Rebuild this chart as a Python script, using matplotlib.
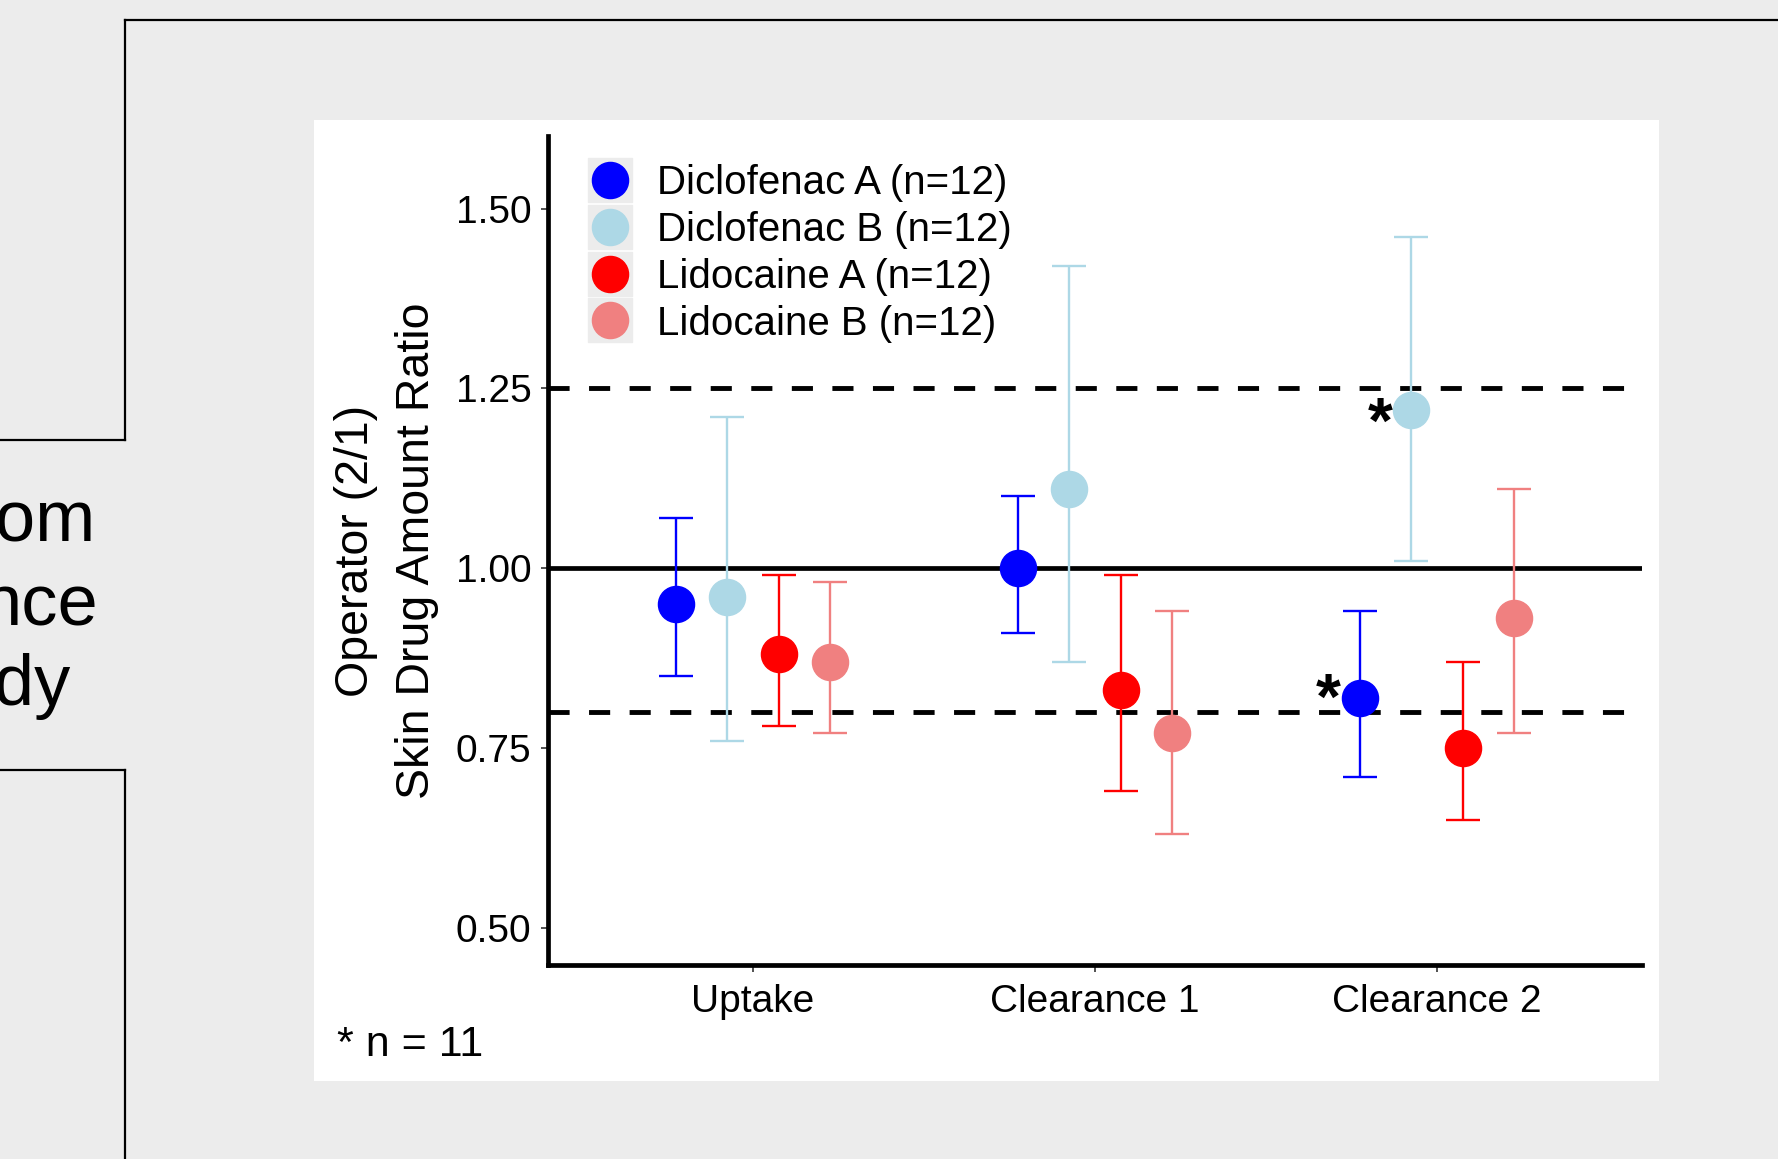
import matplotlib
matplotlib.use("Agg")
import matplotlib.pyplot as plt
from matplotlib.lines import Line2D
from matplotlib.legend_handler import HandlerTuple
import numpy as np

plt.rcParams['font.family'] = ['Liberation Sans', 'DejaVu Sans']
plt.rcParams['lines.scale_dashes'] = False

# ---------------- data ----------------
phases = ["Uptake", "Clearance 1", "Clearance 2"]
series = ["Diclofenac A (n=12)", "Diclofenac B (n=12)",
          "Lidocaine A (n=12)", "Lidocaine B (n=12)"]
colors = ["#0000FF", "#ADD8E6", "#FF0000", "#F08080"]

diclo_a_mean = [0.95, 1.00, 0.82]
diclo_a_lo = [0.85, 0.91, 0.71]
diclo_a_hi = [1.07, 1.10, 0.94]

diclo_b_mean = [0.96, 1.11, 1.22]
diclo_b_lo = [0.76, 0.87, 1.01]
diclo_b_hi = [1.21, 1.42, 1.46]

lido_a_mean = [0.88, 0.83, 0.75]
lido_a_lo = [0.78, 0.69, 0.65]
lido_a_hi = [0.99, 0.99, 0.87]

lido_b_mean = [0.87, 0.77, 0.93]
lido_b_lo = [0.77, 0.63, 0.77]
lido_b_hi = [0.98, 0.94, 1.11]

# "*" annotations (n = 11): series index, phase index, label height
star_series = [0, 1]
star_phase = [2, 2]
star_y = [0.834, 1.218]

ref_solid = 1.0
ref_dashed = [0.80, 1.25]
yticks = [0.50, 0.75, 1.00, 1.25, 1.50]

means = [diclo_a_mean, diclo_b_mean, lido_a_mean, lido_b_mean]
los = [diclo_a_lo, diclo_b_lo, lido_a_lo, lido_b_lo]
his = [diclo_a_hi, diclo_b_hi, lido_a_hi, lido_b_hi]

# ---------------- figure ----------------
W, H = 1778, 1159
fig = plt.figure(figsize=(W / 100, H / 100), dpi=100)
fig.patch.set_facecolor("#ececec")

def fx(px):
    return px / W

def fy(py):
    return 1 - py / H

# slide decorations
for (x0, y0, x1, y1) in [(125, 20, W, 20), (125, 20, 125, 440), (0, 440, 125, 440),
                         (0, 770, 125, 770), (125, 770, 125, H)]:
    fig.add_artist(Line2D([fx(x0), fx(x1)], [fy(y0), fy(y1)], color="black", lw=1.6,
                          transform=fig.transFigure))

for txt, xr, yb in [("om", 95, 542), ("nce", 98, 626), ("dy", 70, 705)]:
    fig.text(fx(xr), fy(yb), txt, ha="right", va="baseline", fontsize=52, color="black")

# white panel
fig.add_artist(plt.Rectangle((fx(314), fy(1081)), fx(1659) - fx(314), fy(120) - fy(1081),
                             transform=fig.transFigure, facecolor="white", edgecolor="none",
                             zorder=0))

ax = fig.add_axes([fx(548), fy(965), fx(1642) - fx(548), fy(136) - fy(965)])
ax.set_facecolor("white")
ax.set_zorder(1)

x = np.arange(len(phases))
offsets = [-0.225, -0.075, 0.075, 0.225]

ax.axhline(ref_solid, color="black", lw=3.4, zorder=1)
for v in ref_dashed:
    ax.axhline(v, color="black", lw=3.5, ls=(0, (15.2, 14)), zorder=1)

for i in range(4):
    m = np.array(means[i])
    lo = np.array(los[i])
    hi = np.array(his[i])
    ax.errorbar(x + offsets[i], m, yerr=[m - lo, hi - m], fmt="o", ms=26,
                color=colors[i], ecolor=colors[i], elinewidth=1.7, capsize=12.5,
                capthick=1.7, mec=colors[i], zorder=3)

for si, pj, yv in zip(star_series, star_phase, star_y):
    ax.text(x[pj] + offsets[si] - 0.092, yv - 0.0195, "*", ha="center",
            va="center", fontsize=46, fontweight="bold", color="black", zorder=4)

ax.set_xlim(-0.6, 2.6)
ax.set_ylim(0.448, 1.601)
ax.set_xticks(x)
ax.set_xticklabels(phases, fontsize=28)
ax.set_yticks(yticks)
ax.set_yticklabels([f"{t:.2f}" for t in yticks], fontsize=28)
ax.tick_params(axis="both", direction="out", length=5, width=1.2, color="#333333",
               labelcolor="black")
ax.tick_params(axis="y", pad=7)
ax.tick_params(axis="x", pad=9)
for s in ["top", "right"]:
    ax.spines[s].set_visible(False)
for s in ["left", "bottom"]:
    ax.spines[s].set_linewidth(3.4)
    ax.spines[s].set_color("black")

ax.set_ylabel("Operator (2/1)\nSkin Drug Amount Ratio", fontsize=33.5, linespacing=1.5,
              labelpad=12)

handles = []
for c in colors:
    handles.append((Line2D([], [], marker="s", ms=31.5, color="#ececec", ls=""),
                    Line2D([], [], marker="o", ms=26, color=c, ls="")))
leg = ax.legend(handles, series, handler_map={tuple: HandlerTuple(ndivide=1, pad=0)},
                loc="upper left", bbox_to_anchor=(fx(588), fy(164)),
                bbox_transform=fig.transFigure, frameon=False, fontsize=29,
                handlelength=1.1, handletextpad=0.62, labelspacing=0.22, borderpad=0,
                borderaxespad=0)

fig.text(fx(337), fy(1045), "* n = 11", ha="left", va="center", fontsize=31)

fig.savefig("out.png", dpi=100, facecolor=fig.get_facecolor())
